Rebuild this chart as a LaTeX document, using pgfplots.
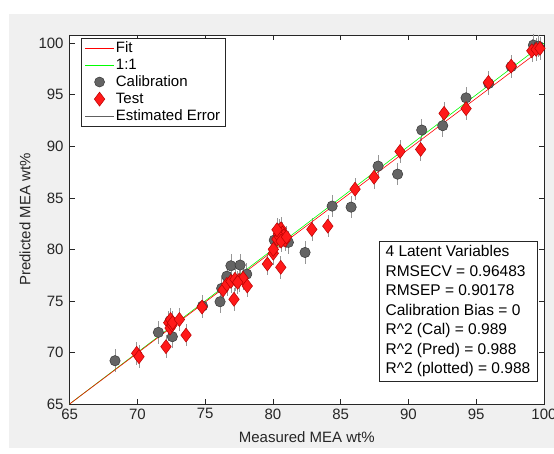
\documentclass[border=0pt]{standalone}
\usepackage{fontspec}
\setmainfont{Liberation Sans}
\usepackage{pgfplots}
\pgfplotsset{compat=1.18}
\usepackage{pgfplotstable}
\definecolor{axgray}{RGB}{38,38,38}
\definecolor{figbg}{RGB}{240,240,240}
\definecolor{calfill}{RGB}{100,100,100}
\definecolor{caledge}{RGB}{55,55,55}
\definecolor{testred}{RGB}{255,25,25}
\definecolor{testedge}{RGB}{185,0,0}
\definecolor{errgray}{RGB}{150,150,150}

\pgfplotstableread{
x y
68.35 69.20
71.55 71.95
72.41 73.08
72.58 71.53
74.81 74.50
76.10 74.92
76.22 76.22
76.60 77.40
76.90 78.41
77.58 78.48
78.07 77.60
80.10 80.90
81.14 80.68
82.37 79.70
84.37 84.20
85.77 84.10
87.76 88.08
89.20 87.30
90.98 91.58
92.53 92.00
94.25 94.70
95.92 96.10
97.58 97.73
99.22 99.82
99.59 99.72
}\caldata

\pgfplotstableread{
x y
69.95 69.92
70.12 69.59
72.11 70.56
72.31 72.89
72.41 72.37
72.56 72.66
72.45 73.20
72.60 72.90
73.10 73.20
73.59 71.69
74.77 74.40
76.32 76.06
77.13 75.16
76.60 76.60
76.90 76.90
77.20 77.10
77.50 77.00
77.80 77.20
77.40 76.80
78.11 76.45
79.59 78.58
80.58 78.26
80.03 79.62
80.03 80.00
80.30 81.00
80.40 81.50
80.50 81.80
80.60 82.00
80.70 81.60
80.80 81.30
80.50 81.20
80.90 80.90
80.30 81.90
80.60 80.80
81.00 81.20
82.87 81.94
84.05 82.26
86.06 85.85
87.46 87.00
89.38 89.50
90.90 89.70
92.63 93.20
94.25 93.66
95.90 96.20
97.58 97.78
99.10 99.27
99.42 99.40
99.70 99.50
}\testdata

\begin{document}
\begin{tikzpicture}
\fill[white] (-69.6pt,-49pt) rectangle (484.4pt,404pt);
\fill[figbg] (-60.6pt,-44pt) rectangle (484.4pt,390pt);
\begin{axis}[
  scale only axis, width=474.4pt, height=369pt,
  xmin=65, xmax=100, ymin=65, ymax=100.8,
  xtick={65,70,...,100}, ytick={65,70,...,100},
  axis background/.style={fill=white},
  axis line style={axgray, line width=0.6pt},
  tick style={axgray, line width=0.6pt},
  major tick length=5pt,
  tick align=inside, xtick pos=both, ytick pos=both,
  /pgf/number format/assume math mode=true,
  tick label style={font=\fontsize{15}{18}\selectfont, text=axgray},
  yticklabel style={xshift=-2.5pt},
  xticklabel style={yshift=-1pt},
  label style={font=\fontsize{15}{18}\selectfont, text=axgray},
  xlabel={Measured MEA wt\%}, ylabel={Predicted MEA wt\%},
  xlabel style={at={(axis description cs:0.5,-0.0894)}, anchor=center},
  ylabel style={at={(axis description cs:-0.094,0.5)}, anchor=center},
  legend style={at={(axis description cs:0.023,0.992)}, anchor=north west,
    draw=axgray, fill=white,
    font=\fontsize{15}{18}\selectfont, nodes={inner sep=1.5pt}, row sep=2pt,
    inner xsep=4pt, inner ysep=2pt},
  legend cell align=left,
  legend image code/.code={\draw[mark repeat=2,mark phase=2,#1] plot coordinates {(0pt,0pt) (14.5pt,0pt) (29pt,0pt)};},
]
\addlegendimage{red, line width=0.6pt}
\addlegendentry{Fit}
\addlegendimage{green, line width=0.6pt}
\addlegendentry{1:1}
\addlegendimage{only marks, mark=*, mark size=5pt, mark options={fill=calfill, draw=caledge, line width=0.5pt}}
\addlegendentry{Calibration}
\addlegendimage{only marks, mark=diamond*, mark size=7pt, mark options={fill=testred, draw=testedge, line width=0.5pt}}
\addlegendentry{Test}
\addlegendimage{gray!75!black, line width=0.7pt}
\addlegendentry{Estimated Error}

% error bars
\addplot[draw=none, mark=none, forget plot, error bars/.cd, y dir=both, y fixed=1.1, error mark=none, error bar style={draw=errgray, line width=0.6pt}] table[x=x,y=y] {\caldata};
\addplot[draw=none, mark=none, forget plot, error bars/.cd, y dir=both, y fixed=1.1, error mark=none, error bar style={draw=errgray, line width=0.6pt}] table[x=x,y=y] {\testdata};
% markers
\addplot[only marks, forget plot, mark=*, mark size=5.2pt, mark options={fill=calfill, draw=caledge, line width=0.5pt}] table[x=x,y=y] {\caldata};
\addplot[only marks, forget plot, mark=diamond*, mark size=7pt, mark options={fill=testred, draw=testedge, line width=0.5pt}] table[x=x,y=y] {\testdata};
% lines
\addplot[green, line width=0.6pt, forget plot] coordinates {(65,65) (100,100)};
\addplot[red, line width=0.6pt, forget plot] coordinates {(65,65) (100,99.6)};

\node[draw=axgray, fill=white, align=left, anchor=south east, text=black,
  font=\fontsize{15.5}{19.5}\selectfont, inner xsep=6.5pt, inner ysep=4pt,
  xshift=-7pt, yshift=23pt] at (rel axis cs:1,0)
  {4 Latent Variables\\RMSECV = 0.96483\\RMSEP = 0.90178\\Calibration Bias = 0\\R\textasciicircum 2 (Cal) = 0.989\\R\textasciicircum 2 (Pred) = 0.988\\R\textasciicircum 2 (plotted) = 0.988};
\end{axis}
\pgfresetboundingbox
\useasboundingbox (-69.6pt,-49pt) rectangle (484.4pt,404pt);
\end{tikzpicture}
\end{document}
